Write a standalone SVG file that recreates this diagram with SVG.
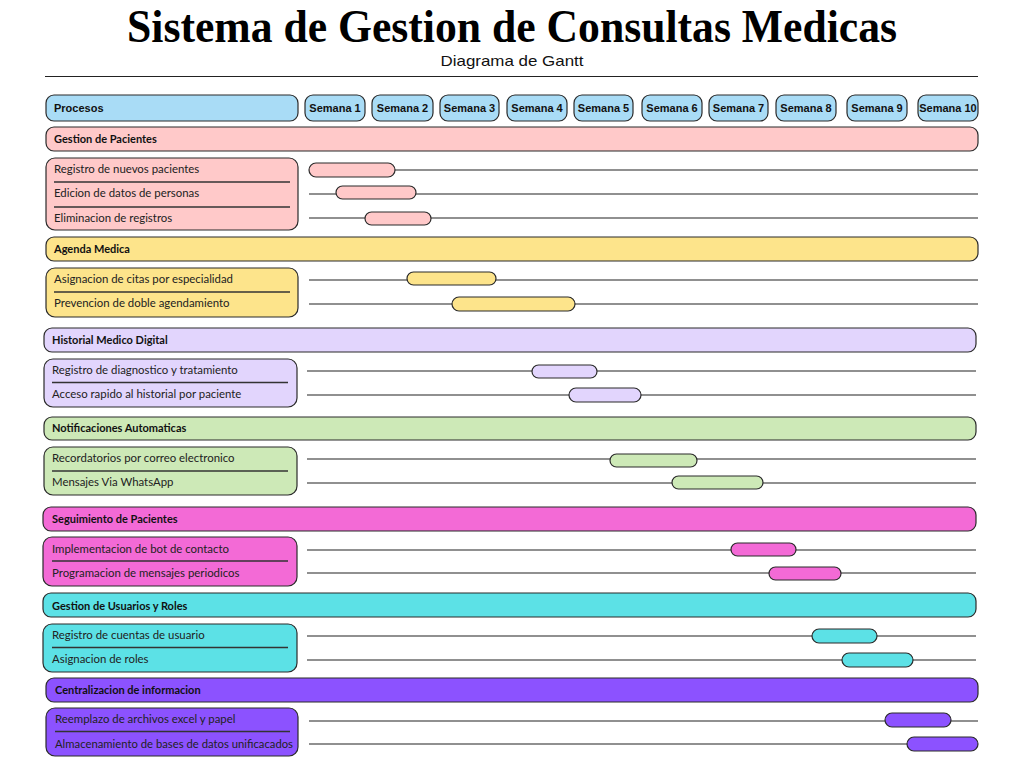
<svg xmlns="http://www.w3.org/2000/svg" width="1024" height="768" viewBox="0 0 1024 768">
<style>
.box{stroke:#2b2b2b;stroke-width:1.2}
.hd{fill:#a9dcf6}
.t-title{font-family:"Liberation Serif",serif;font-weight:bold;font-size:46px;fill:#000}
.t-sub{font-family:"Liberation Sans",sans-serif;font-size:15px;fill:#111}
.t-wk{font-family:"Liberation Sans",sans-serif;font-weight:bold;font-size:11px;fill:#111}
.t-sec{font-family:"Lato","Liberation Sans",sans-serif;font-weight:bold;font-size:11px;fill:#111}
.t-task{font-family:"Lato","Liberation Sans",sans-serif;font-size:11.4px;fill:#222}
.div{stroke:#333;stroke-width:1.3}
.trk{stroke:#222;stroke-width:1.2}
.c1{fill:#ffc9c9}.c2{fill:#fde48b}.c3{fill:#e2d5fd}.c4{fill:#cde9b7}.c5{fill:#f36ad6}.c6{fill:#5ce1e6}.c7{fill:#8c52ff}
</style>
<rect width="1024" height="768" fill="#fff"/>
<text class="t-title" x="512" y="42" text-anchor="middle" textLength="770" lengthAdjust="spacingAndGlyphs">Sistema de Gestion de Consultas Medicas</text>
<text class="t-sub" x="512" y="66" text-anchor="middle" textLength="143" lengthAdjust="spacingAndGlyphs">Diagrama de Gantt</text>
<line x1="45" y1="76.5" x2="978" y2="76.5" stroke="#222" stroke-width="1.2"/>

<g id="header">
<rect class="box hd" x="46" y="95" width="252" height="26" rx="8"/>
<text class="t-wk" x="54" y="112">Procesos</text>
<rect class="box hd" x="305" y="95" width="60" height="26" rx="8"/><text class="t-wk" x="335" y="112" text-anchor="middle">Semana 1</text>
<rect class="box hd" x="372" y="95" width="61" height="26" rx="8"/><text class="t-wk" x="402.5" y="112" text-anchor="middle">Semana 2</text>
<rect class="box hd" x="440" y="95" width="59" height="26" rx="8"/><text class="t-wk" x="469.5" y="112" text-anchor="middle">Semana 3</text>
<rect class="box hd" x="507" y="95" width="60" height="26" rx="8"/><text class="t-wk" x="537" y="112" text-anchor="middle">Semana 4</text>
<rect class="box hd" x="574" y="95" width="59" height="26" rx="8"/><text class="t-wk" x="603.5" y="112" text-anchor="middle">Semana 5</text>
<rect class="box hd" x="642" y="95" width="60" height="26" rx="8"/><text class="t-wk" x="672" y="112" text-anchor="middle">Semana 6</text>
<rect class="box hd" x="709" y="95" width="59" height="26" rx="8"/><text class="t-wk" x="738.5" y="112" text-anchor="middle">Semana 7</text>
<rect class="box hd" x="776" y="95" width="60" height="26" rx="8"/><text class="t-wk" x="806" y="112" text-anchor="middle">Semana 8</text>
<rect class="box hd" x="847" y="95" width="60" height="26" rx="8"/><text class="t-wk" x="877" y="112" text-anchor="middle">Semana 9</text>
<rect class="box hd" x="918" y="95" width="60" height="26" rx="8"/><text class="t-wk" x="948" y="112" text-anchor="middle">Semana 10</text>
</g>

<g id="connectors">
<line class="trk" x1="309" y1="170" x2="978" y2="170"/>
<line class="trk" x1="309" y1="194" x2="978" y2="194"/>
<line class="trk" x1="309" y1="218" x2="978" y2="218"/>
<line class="trk" x1="309" y1="280" x2="978" y2="280"/>
<line class="trk" x1="309" y1="304" x2="978" y2="304"/>
<line class="trk" x1="307" y1="371" x2="976" y2="371"/>
<line class="trk" x1="307" y1="395" x2="976" y2="395"/>
<line class="trk" x1="307" y1="459" x2="976" y2="459"/>
<line class="trk" x1="307" y1="483" x2="976" y2="483"/>
<line class="trk" x1="307" y1="550" x2="976" y2="550"/>
<line class="trk" x1="307" y1="573" x2="976" y2="573"/>
<line class="trk" x1="307" y1="636" x2="976" y2="636"/>
<line class="trk" x1="307" y1="660" x2="976" y2="660"/>
<line class="trk" x1="309" y1="721" x2="978" y2="721"/>
<line class="trk" x1="309" y1="744" x2="978" y2="744"/>
</g>

<g id="gestion-pacientes">
<rect class="box c1" x="46" y="127" width="932" height="24" rx="8"/>
<text class="t-sec" x="54" y="143">Gestion de Pacientes</text>
<rect class="box c1" x="46" y="158" width="252" height="72" rx="9"/>
<text class="t-task" x="54" y="173">Registro de nuevos pacientes</text>
<line class="div" x1="54" y1="182" x2="290" y2="182"/>
<text class="t-task" x="54" y="197">Edicion de datos de personas</text>
<line class="div" x1="54" y1="207" x2="290" y2="207"/>
<text class="t-task" x="54" y="222">Eliminacion de registros</text>
<rect class="box c1" x="309" y="163" width="86" height="14" rx="7"/>
<rect class="box c1" x="336" y="186" width="80" height="13" rx="6.5"/>
<rect class="box c1" x="365" y="212" width="66" height="13" rx="6.5"/>
</g>

<g id="agenda-medica">
<rect class="box c2" x="46" y="237" width="932" height="24" rx="8"/>
<text class="t-sec" x="54" y="253">Agenda Medica</text>
<rect class="box c2" x="46" y="268" width="252" height="49" rx="9"/>
<text class="t-task" x="54" y="283">Asignacion de citas por especialidad</text>
<line class="div" x1="54" y1="292" x2="290" y2="292"/>
<text class="t-task" x="54" y="307">Prevencion de doble agendamiento</text>
<rect class="box c2" x="407" y="272" width="89" height="13" rx="6.5"/>
<rect class="box c2" x="452" y="297" width="123" height="14" rx="7"/>
</g>

<g id="historial-medico">
<rect class="box c3" x="44" y="328" width="932" height="24" rx="8"/>
<text class="t-sec" x="52" y="344">Historial Medico Digital</text>
<rect class="box c3" x="44" y="359" width="253" height="48" rx="9"/>
<text class="t-task" x="52" y="374">Registro de diagnostico y tratamiento</text>
<line class="div" x1="52" y1="382.5" x2="288" y2="382.5"/>
<text class="t-task" x="52" y="398">Acceso rapido al historial por paciente</text>
<rect class="box c3" x="532" y="365" width="65" height="13" rx="6.5"/>
<rect class="box c3" x="569" y="388" width="72" height="14" rx="7"/>
</g>

<g id="notificaciones">
<rect class="box c4" x="44" y="417" width="932" height="23" rx="8"/>
<text class="t-sec" x="52" y="432">Notificaciones Automaticas</text>
<rect class="box c4" x="44" y="447" width="253" height="48" rx="9"/>
<text class="t-task" x="52" y="462">Recordatorios por correo electronico</text>
<line class="div" x1="52" y1="471" x2="288" y2="471"/>
<text class="t-task" x="52" y="486">Mensajes Via WhatsApp</text>
<rect class="box c4" x="610" y="454" width="87" height="13" rx="6.5"/>
<rect class="box c4" x="672" y="476" width="91" height="13" rx="6.5"/>
</g>

<g id="seguimiento">
<rect class="box c5" x="43" y="507" width="933" height="24" rx="8"/>
<text class="t-sec" x="52" y="523">Seguimiento de Pacientes</text>
<rect class="box c5" x="43" y="537" width="254" height="49" rx="9"/>
<text class="t-task" x="52" y="553">Implementacion de bot de contacto</text>
<line class="div" x1="52" y1="561" x2="288" y2="561"/>
<text class="t-task" x="52" y="577">Programacion de mensajes periodicos</text>
<rect class="box c5" x="731" y="543" width="65" height="13" rx="6.5"/>
<rect class="box c5" x="769" y="567" width="72" height="13" rx="6.5"/>
</g>

<g id="usuarios-roles">
<rect class="box c6" x="43" y="593" width="933" height="24" rx="8"/>
<text class="t-sec" x="52" y="610">Gestion de Usuarios y Roles</text>
<rect class="box c6" x="43" y="624" width="254" height="48" rx="9"/>
<text class="t-task" x="52" y="639">Registro de cuentas de usuario</text>
<line class="div" x1="52" y1="647.5" x2="288" y2="647.5"/>
<text class="t-task" x="52" y="663">Asignacion de roles</text>
<rect class="box c6" x="812" y="629" width="65" height="14" rx="7"/>
<rect class="box c6" x="842" y="653" width="71" height="14" rx="7"/>
</g>

<g id="centralizacion">
<rect class="box c7" x="46" y="678" width="932" height="24" rx="8"/>
<text class="t-sec" x="55" y="694">Centralizacion de informacion</text>
<rect class="box c7" x="46" y="708" width="252" height="48" rx="9"/>
<text class="t-task" x="55" y="723">Reemplazo de archivos excel y papel</text>
<line class="div" x1="55" y1="731.5" x2="290" y2="731.5"/>
<text class="t-task" x="55" y="748" textLength="238" lengthAdjust="spacingAndGlyphs">Almacenamiento de bases de datos unificacados</text>
<rect class="box c7" x="885" y="713" width="66" height="14" rx="7"/>
<rect class="box c7" x="907" y="737" width="71" height="14" rx="7"/>
</g>
</svg>
